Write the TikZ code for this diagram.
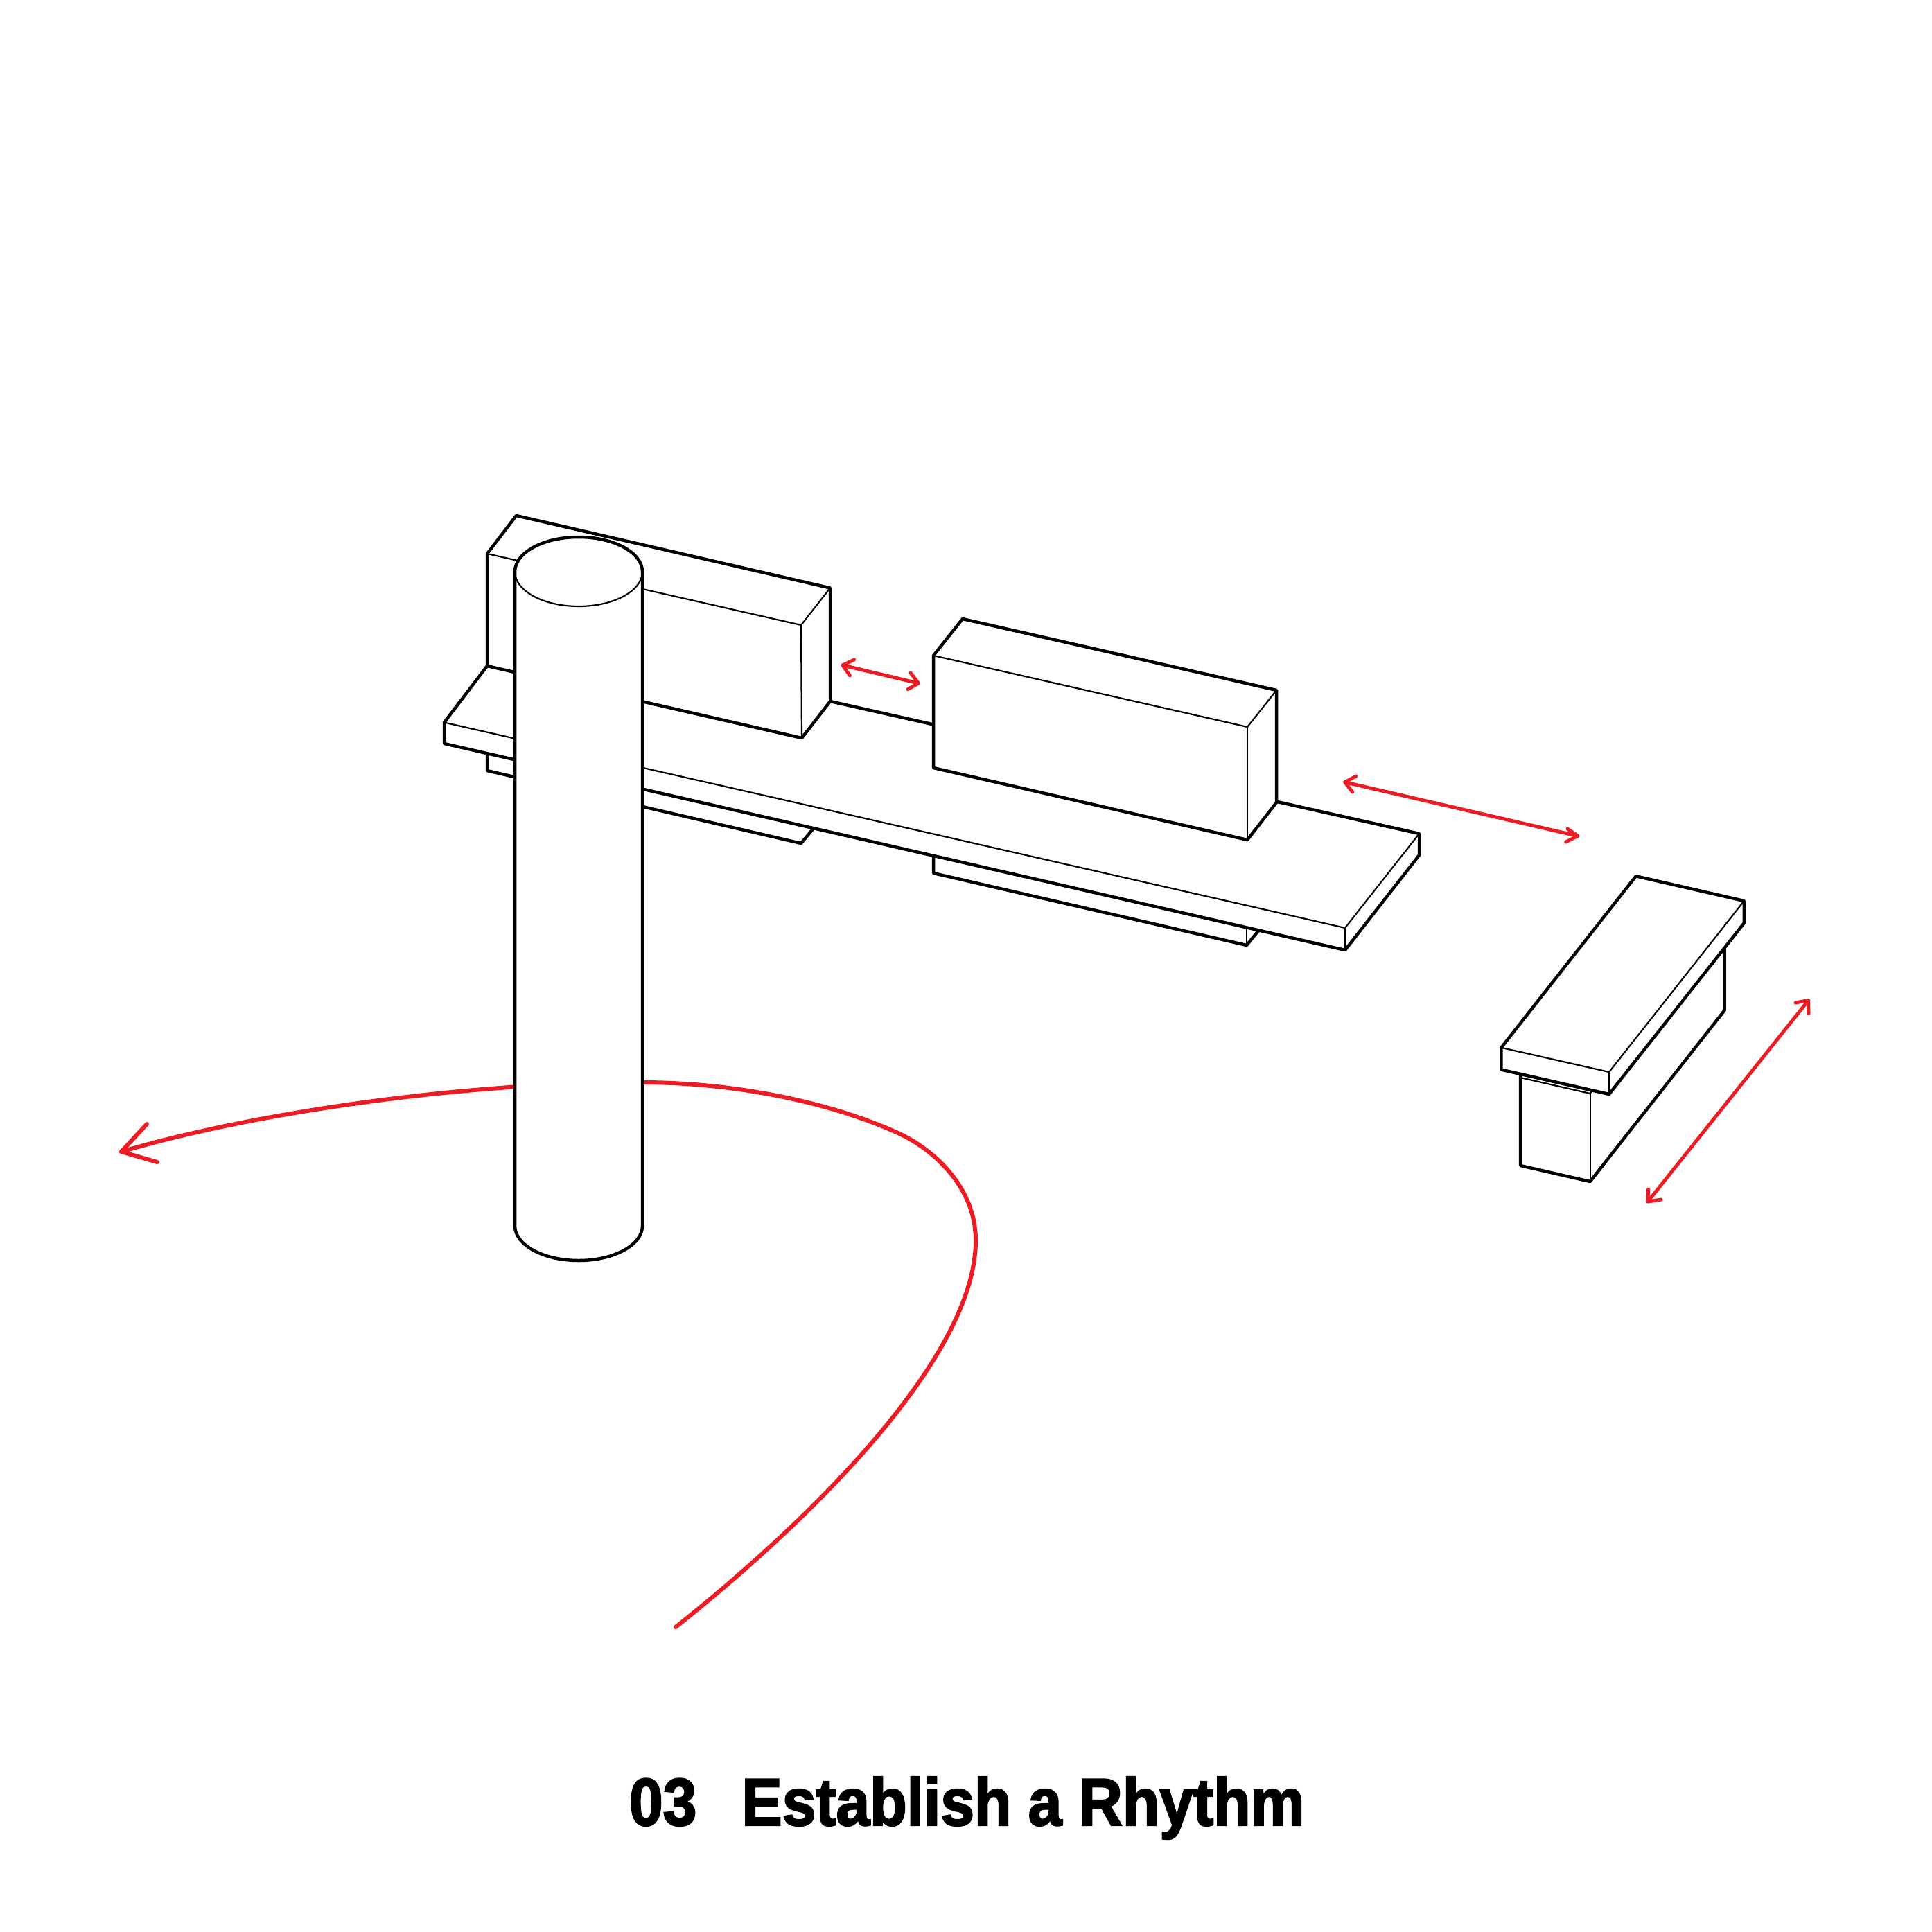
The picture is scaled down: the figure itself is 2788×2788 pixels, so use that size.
\documentclass[tikz,border=0pt]{standalone}
\usepackage{fontspec}
\newfontfamily\titlefont[FakeStretch=0.905,FakeBold=2.4]{Liberation Sans Bold}
\definecolor{rhythmred}{HTML}{ED1C24}
\tikzset{
  heavy/.style={line width=0.045cm,line join=round,line cap=round,black},
  fine/.style={line width=0.022cm,line join=round,line cap=round,black},
  redline/.style={line width=0.05cm,line join=round,line cap=round,rhythmred},
  redcurve/.style={line width=0.06cm,line join=round,line cap=round,rhythmred},
  titletext/.style={anchor=base west,inner sep=0pt,outer sep=0pt,text=black,font=\titlefont\fontsize{27.5pt}{29pt}\selectfont}
}
\begin{document}
\begin{tikzpicture}[x=0.01cm,y=-0.01cm]
\useasboundingbox (0,0) rectangle (2788,2788);
% big curved path
\draw[redcurve] (975,2348) .. controls (1180,2185) and (1408,1955) .. (1408,1790)
  .. controls (1408,1715) and (1350,1660) .. (1296,1635)
  .. controls (1190,1587) and (1050,1562) .. (927,1562)
  .. controls (650,1562) and (350,1610) .. (175,1662);
\draw[redcurve] (212,1622) -- (175,1662) -- (227,1677);
% lower boxes below the slab
\draw[heavy] (703,1070) -- (703,1112) -- (1156,1217) -- (1180,1188);
\draw[heavy] (1347,1220) -- (1347,1260) -- (1799,1364) -- (1820,1338);
\draw[fine] (1799,1364) -- (1799,1330);
% slab
\draw[heavy,fill=white] (703,961) -- (641,1042.5) -- (641,1073) -- (1941,1371) -- (2048,1234) -- (2048,1203) -- (1198,1012) -- cycle;
\draw[fine] (641,1042.5) -- (1941,1339) -- (2048,1203);
\draw[fine] (1941,1339) -- (1941,1371);
% first box
\draw[heavy,fill=white] (703,961) -- (703,799) -- (745,744) -- (1198,848.5) -- (1198,1012) -- (1157,1065) -- cycle;
\draw[fine] (703,799) -- (1156,902) -- (1198,848.5);
\draw[fine] (1156,902) -- (1157,1065);
% second box
\draw[heavy,fill=white] (1347,1108) -- (1347,946) -- (1389,893) -- (1842,996) -- (1842,1158) -- (1800,1212) -- cycle;
\draw[fine] (1347,946) -- (1800,1049) -- (1842,996);
\draw[fine] (1800,1049) -- (1800,1212);
% column
\fill[white] (743,825) .. controls (743,797.4) and (784.2,775) .. (835,775)
  .. controls (885.8,775) and (927,797.4) .. (927,825) -- (927,1769)
  .. controls (927,1796.6) and (885.8,1819) .. (835,1819)
  .. controls (784.2,1819) and (743,1796.6) .. (743,1769) -- cycle;
\draw[heavy] (743,1769) -- (743,825) .. controls (743,797.4) and (784.2,775) .. (835,775)
  .. controls (885.8,775) and (927,797.4) .. (927,825) -- (927,1769)
  .. controls (927,1796.6) and (885.8,1819) .. (835,1819)
  .. controls (784.2,1819) and (743,1796.6) .. (743,1769);
\draw[fine] (743,825) .. controls (743,852.6) and (784.2,875) .. (835,875)
  .. controls (885.8,875) and (927,852.6) .. (927,825);
% bench
\draw[heavy] (2488.6,1360) -- (2488.6,1458) -- (2294.6,1705) -- (2194,1682) -- (2194,1550);
\draw[fine] (2194,1555) -- (2294.6,1578) -- (2298,1573);
\draw[fine] (2294.6,1578) -- (2294.6,1705);
\draw[heavy,fill=white] (2360.7,1264.3) -- (2516.8,1300) -- (2516.8,1332) -- (2322,1579) -- (2166.4,1543.6) -- (2166.4,1511.8) -- cycle;
\draw[fine] (2166.4,1511.8) -- (2322,1547) -- (2516.8,1300);
\draw[fine] (2322,1547) -- (2322,1579);
% spacing arrows
\draw[redline] (1216,960) -- (1325.5,986);
\draw[redline] (1232.6,952) -- (1216,960) -- (1226.5,975);
\draw[redline] (1314,971) -- (1325.5,986) -- (1310,994.7);
\draw[redline] (1940.7,1128.7) -- (2276.8,1206.4);
\draw[redline] (1956.7,1120) -- (1940.7,1128.7) -- (1951.7,1143);
\draw[redline] (2262,1196) -- (2276.8,1206.4) -- (2259.6,1215);
\draw[redline] (2609.6,1443.6) -- (2377.9,1734);
\draw[redline] (2591,1447) -- (2609.6,1443.6) -- (2610,1462.5);
\draw[redline] (2378.6,1716) -- (2377.9,1734) -- (2397,1731);
% title
\node[titletext] (title) at (908,2634) {03\hspace{0.65cm}Establish a Rhythm};
\end{tikzpicture}
\end{document}
